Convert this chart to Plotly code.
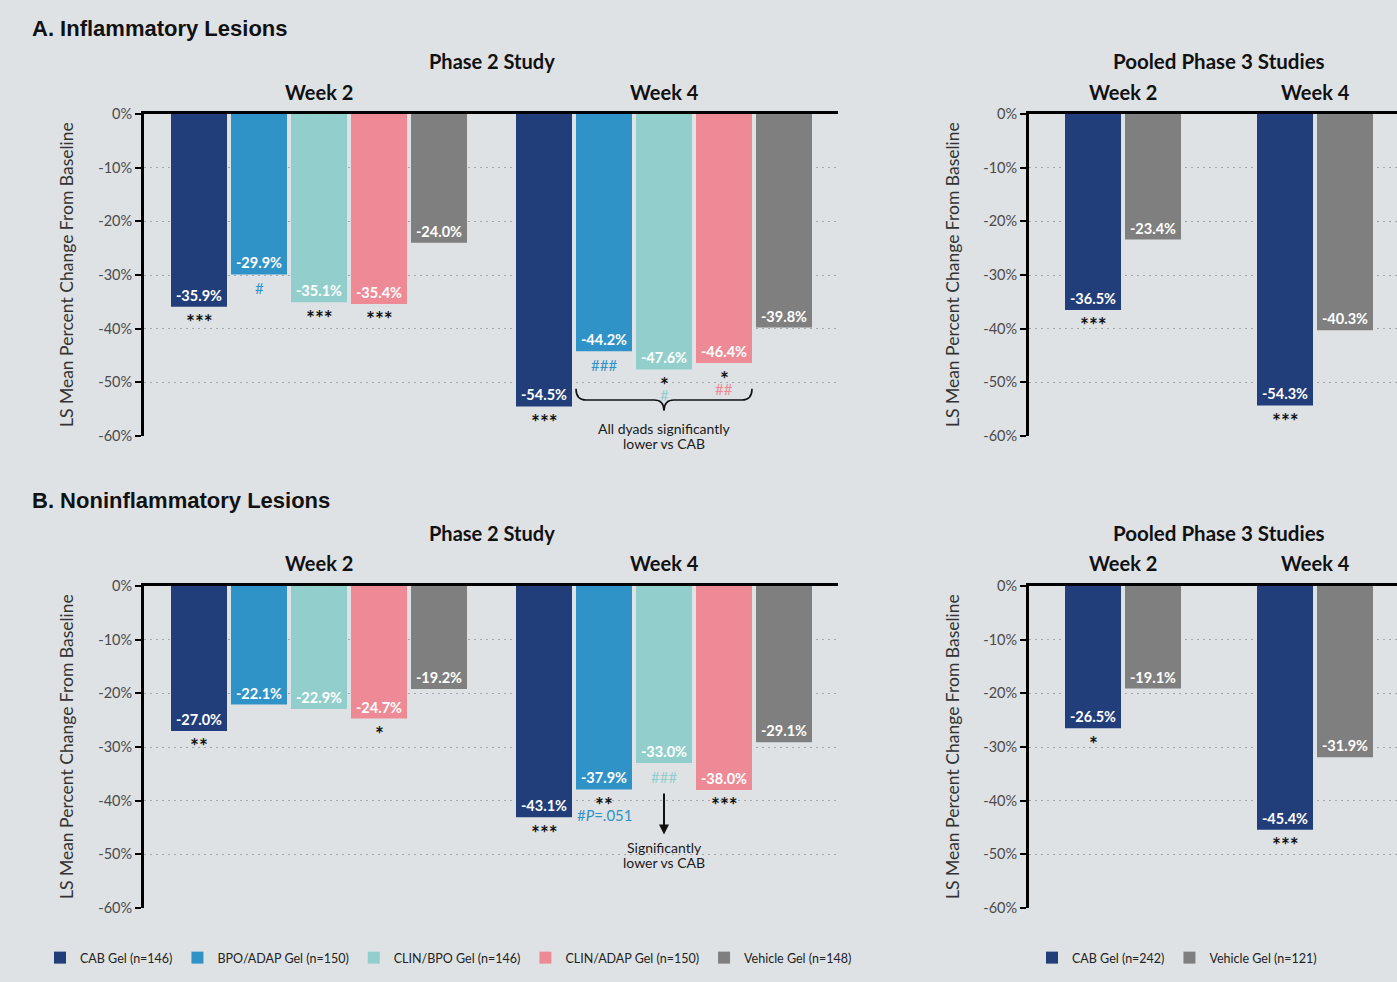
import plotly.graph_objects as go

W, H = 1397, 982
BG = "#dfe2e5"
FONT = "Lato, 'Open Sans', sans-serif"
HFONT = "'Liberation Sans', Arial, sans-serif"

# ---------------- data ----------------
groups = ["Week 2", "Week 4"]
p2_series = ["CAB Gel (n=146)", "BPO/ADAP Gel (n=150)", "CLIN/BPO Gel (n=146)",
             "CLIN/ADAP Gel (n=150)", "Vehicle Gel (n=148)"]
p3_series = ["CAB Gel (n=242)", "Vehicle Gel (n=121)"]
p2_colors = ["#213d7a", "#3093c8", "#92cfcc", "#ee8a96", "#7f7f7f"]
p3_colors = ["#213d7a", "#7f7f7f"]

# A. Inflammatory lesions (values for Week 2, Week 4)
infl_p2_cab = [-35.9, -54.5]
infl_p2_bpo_adap = [-29.9, -44.2]
infl_p2_clin_bpo = [-35.1, -47.6]
infl_p2_clin_adap = [-35.4, -46.4]
infl_p2_vehicle = [-24.0, -39.8]
infl_p3_cab = [-36.5, -54.3]
infl_p3_vehicle = [-23.4, -40.3]

# B. Noninflammatory lesions
nonin_p2_cab = [-27.0, -43.1]
nonin_p2_bpo_adap = [-22.1, -37.9]
nonin_p2_clin_bpo = [-22.9, -33.0]
nonin_p2_clin_adap = [-24.7, -38.0]
nonin_p2_vehicle = [-19.2, -29.1]
nonin_p3_cab = [-26.5, -45.4]
nonin_p3_vehicle = [-19.1, -31.9]

tick_vals = [0, -10, -20, -30, -40, -50, -60]
tick_text = ["0%", "-10%", "-20%", "-30%", "-40%", "-50%", "-60%"]

# significance markers: (series index, group index, text, colour index or None=black, line)
infl_p2_sig = [(0, 0, "***", None, 0), (1, 0, "#", 1, 0), (2, 0, "***", None, 0), (3, 0, "***", None, 0),
               (0, 1, "***", None, 0), (1, 1, "###", 1, 0), (2, 1, "*", None, 0), (2, 1, "#", 2, 1),
               (3, 1, "*", None, 0), (3, 1, "##", 3, 1)]
infl_p3_sig = [(0, 0, "***", None, 0), (0, 1, "***", None, 0)]
nonin_p2_sig = [(0, 0, "**", None, 0), (3, 0, "*", None, 0), (0, 1, "***", None, 0),
                (1, 1, "**", None, 0), (1, 1, "#<i>P</i>=.051", 1, 1), (2, 1, "###", 2, 0),
                (3, 1, "***", None, 0)]
nonin_p3_sig = [(0, 0, "*", None, 0), (0, 1, "***", None, 0)]

# ---------------- layout geometry (pixels) ----------------
def px(x):
    return x / W

def py(y):
    return 1 - y / H

P2_X = (144, 838)
P3_X = (1029, 1397)
TOP_Y = (114, 436)
BOT_Y = (586, 908)
P2_CENTERS = (319, 664)
P3_CENTERS = (1123, 1315)
BAR_PX, STEP_PX = 56, 60


def xrange_for(xdom, centers):
    ppu = centers[1] - centers[0]
    return [-(centers[0] - xdom[0]) / ppu, 1 + (xdom[1] - centers[1]) / ppu], ppu


p2_range, p2_ppu = xrange_for(P2_X, P2_CENTERS)
p3_range, p3_ppu = xrange_for(P3_X, P3_CENTERS)

fig = go.Figure()

panels = [
    ("", [infl_p2_cab, infl_p2_bpo_adap, infl_p2_clin_bpo, infl_p2_clin_adap, infl_p2_vehicle],
     p2_series, p2_colors, p2_ppu, "legend", True, infl_p2_sig),
    ("2", [infl_p3_cab, infl_p3_vehicle], p3_series, p3_colors, p3_ppu, "legend2", True, infl_p3_sig),
    ("3", [nonin_p2_cab, nonin_p2_bpo_adap, nonin_p2_clin_bpo, nonin_p2_clin_adap, nonin_p2_vehicle],
     p2_series, p2_colors, p2_ppu, "legend", False, nonin_p2_sig),
    ("4", [nonin_p3_cab, nonin_p3_vehicle], p3_series, p3_colors, p3_ppu, "legend2", False, nonin_p3_sig),
]

annotations = []
shapes = []


def bar_x(s, g, n, ppu):
    step = STEP_PX / ppu
    return g + (s - (n - 1) / 2.0) * step


for suf, vals, names, cols, ppu, leg, showleg, sig in panels:
    n = len(vals)
    for s, (v, nm, c) in enumerate(zip(vals, names, cols)):
        fig.add_trace(go.Bar(
            x=[bar_x(s, g, n, ppu) for g in range(len(groups))],
            y=v,
            width=BAR_PX / ppu,
            name=nm,
            marker=dict(color=c, line=dict(width=0)),
            text=[f"{val:.1f}%" for val in v],
            textposition="inside",
            insidetextanchor="end",
            textangle=0,
            textfont=dict(family=FONT, size=14.5, color="white", weight="bold"),
            xaxis="x" + suf, yaxis="y" + suf,
            legend=leg, showlegend=showleg,
            hoverinfo="skip",
        ))
    for s, g, txt, ci, line in sig:
        color = "#111111" if ci is None else cols[ci]
        is_star = txt.startswith("*")
        shift = (-15 if is_star else -14) - 12 * line
        annotations.append(dict(
            x=bar_x(s, g, n, ppu), y=vals[s][g], xref="x" + suf, yref="y" + suf,
            text=txt, showarrow=False, yanchor="middle", yshift=shift,
            font=dict(family=FONT, size=21 if is_star else 15, color=color,
                      weight="bold" if is_star else "normal"),
        ))

# ---------------- axes ----------------
def xaxis(rng, dom, anchor):
    return dict(domain=dom, range=rng, anchor=anchor, side="top", showline=True,
                linecolor="black", linewidth=2.5, ticks="", showticklabels=False,
                showgrid=False, zeroline=False, fixedrange=True, automargin=False)


def yaxis(dom, anchor):
    return dict(domain=dom, range=[-60, 0], anchor=anchor, showline=True, linecolor="black",
                linewidth=3, ticks="outside", ticklen=6, tickwidth=2, tickcolor="black",
                tickvals=tick_vals, ticktext=tick_text,
                tickfont=dict(family=FONT, size=14.5, color="#4a4a4a"),
                showgrid=True, gridcolor="#a4a8ac", gridwidth=1, griddash="2px,4px",
                zeroline=False, fixedrange=True, automargin=False)


top_dom = [py(TOP_Y[1]), py(TOP_Y[0])]
bot_dom = [py(BOT_Y[1]), py(BOT_Y[0])]
p2_dom = [px(P2_X[0]), px(P2_X[1])]
p3_dom = [px(P3_X[0]), px(P3_X[1])]

fig.update_layout(
    xaxis=xaxis(p2_range, p2_dom, "y"), yaxis=yaxis(top_dom, "x"),
    xaxis2=xaxis(p3_range, p3_dom, "y2"), yaxis2=yaxis(top_dom, "x2"),
    xaxis3=xaxis(p2_range, p2_dom, "y3"), yaxis3=yaxis(bot_dom, "x3"),
    xaxis4=xaxis(p3_range, p3_dom, "y4"), yaxis4=yaxis(bot_dom, "x4"),
)

# ---------------- headings ----------------
for txt, y in [("A. Inflammatory Lesions", 29), ("B. Noninflammatory Lesions", 500)]:
    annotations.append(dict(x=px(30), y=py(y), xref="paper", yref="paper", text="<b>%s</b>" % txt,
                            showarrow=False, xanchor="left", yanchor="middle",
                            font=dict(family=HFONT, size=22, color="#111111")))

for suf_p2, suf_p3, ystudy, yweek in [("", "2", 61, 92), ("3", "4", 533, 563)]:
    annotations.append(dict(x=0.5, y=py(ystudy), xref="x" + suf_p2, yref="paper", text="<b>Phase 2 Study</b>",
                            showarrow=False, yanchor="middle",
                            font=dict(family=FONT, size=20, color="#111111")))
    annotations.append(dict(x=0.5, y=py(ystudy), xref="x" + suf_p3, yref="paper",
                            text="<b>Pooled Phase 3 Studies</b>", showarrow=False, yanchor="middle",
                            font=dict(family=FONT, size=20.5, color="#111111")))
    for suf in (suf_p2, suf_p3):
        for g, gname in enumerate(groups):
            annotations.append(dict(x=g, y=py(yweek), xref="x" + suf, yref="paper", text="<b>%s</b>" % gname,
                                    showarrow=False, yanchor="middle",
                                    font=dict(family=FONT, size=20, color="#111111")))

# y-axis titles
for xc, ydom in [(66, TOP_Y), (952, TOP_Y), (66, BOT_Y), (952, BOT_Y)]:
    annotations.append(dict(x=px(xc), y=py((ydom[0] + ydom[1]) / 2), xref="paper", yref="paper",
                            text="LS Mean Percent Change From Baseline", textangle=-90, showarrow=False,
                            xanchor="center", yanchor="middle",
                            font=dict(family=FONT, size=17.5, color="#333333")))

# brace (inflammatory, phase 2, week 4: dyads vs CAB)
bx0 = bar_x(1, 1, 5, p2_ppu) - BAR_PX / p2_ppu / 2
bx1 = bar_x(3, 1, 5, p2_ppu) + BAR_PX / p2_ppu / 2
bxc = bar_x(2, 1, 5, p2_ppu)
r = 10 / p2_ppu
yt, ym, yb = -51.2, -53.3, -55.3
path = (f"M {bx0},{yt} Q {bx0},{ym} {bx0 + r},{ym} L {bxc - r},{ym} Q {bxc},{ym} {bxc},{yb} "
        f"Q {bxc},{ym} {bxc + r},{ym} L {bx1 - r},{ym} Q {bx1},{ym} {bx1},{yt}")
shapes.append(dict(type="path", path=path, xref="x", yref="y", line=dict(color="#111111", width=1.6)))
for i, line_txt in enumerate(["All dyads significantly", "lower vs CAB"]):
    annotations.append(dict(x=bxc, y=-58.6, xref="x", yref="y", text=line_txt,
                            showarrow=False, yanchor="middle", yshift=-15 * i,
                            font=dict(family=FONT, size=14, color="#1a1a1a")))

# arrow (noninflammatory, phase 2, week 4)
ax_x = bar_x(2, 1, 5, p2_ppu)
annotations.append(dict(x=ax_x, y=-46.3, ax=ax_x, ay=-38.4, xref="x3", yref="y3", axref="x3", ayref="y3",
                        text="", showarrow=True, arrowhead=2, arrowsize=1, arrowwidth=2,
                        arrowcolor="#111111"))
for i, line_txt in enumerate(["Significantly", "lower vs CAB"]):
    annotations.append(dict(x=ax_x, y=-48.7, xref="x3", yref="y3", text=line_txt,
                            showarrow=False, yanchor="middle", yshift=-15 * i,
                            font=dict(family=FONT, size=14, color="#1a1a1a")))

legend_common = dict(orientation="h", yanchor="middle", xanchor="left", y=py(958),
                     font=dict(family=FONT, size=12.5, color="#222222"), bgcolor="rgba(0,0,0,0)",
                     itemwidth=30, traceorder="normal", itemclick=False, itemdoubleclick=False)

fig.update_layout(
    width=W, height=H, autosize=False,
    margin=dict(l=0, r=0, t=0, b=0, pad=0, autoexpand=False),
    paper_bgcolor=BG, plot_bgcolor=BG,
    barmode="overlay",
    annotations=annotations,
    shapes=shapes,
    legend=dict(x=px(40), **legend_common),
    legend2=dict(x=px(1032), **legend_common),
    font=dict(family=FONT),
)

fig.write_html("out.html", config={"displayModeBar": False},
               post_script="document.body.style.margin='0';")
